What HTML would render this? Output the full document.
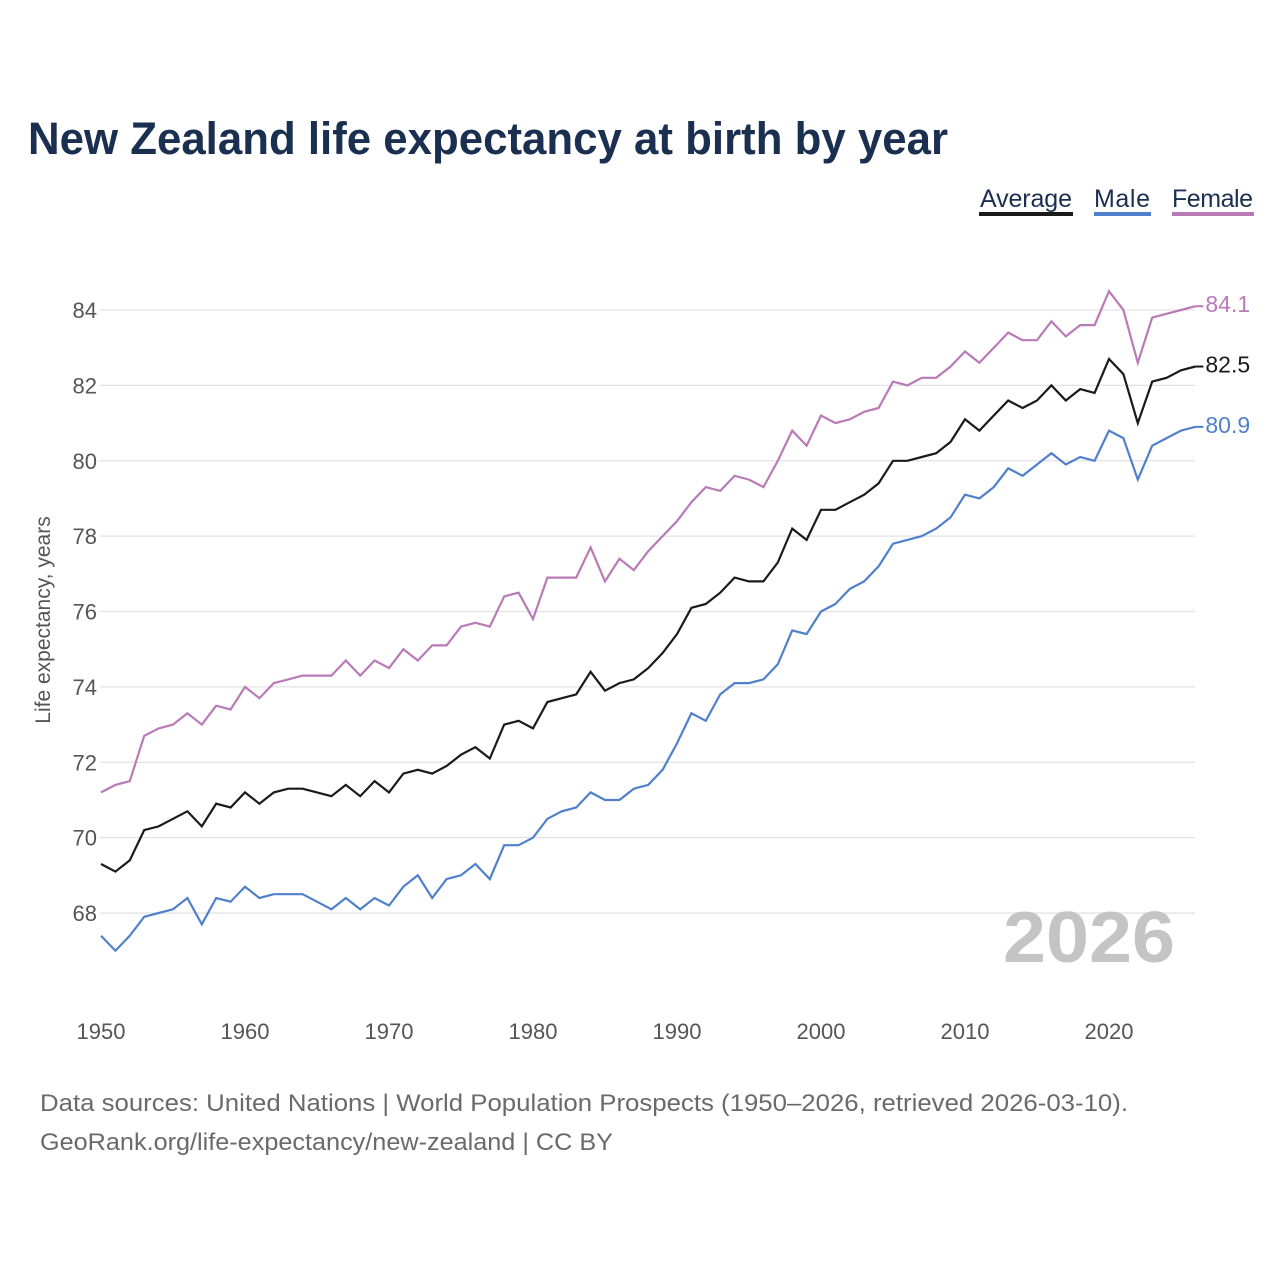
<!DOCTYPE html>
<html><head><meta charset="utf-8"><style>
body{margin:0;background:#fff;width:1280px;height:1280px;overflow:hidden;font-family:"Liberation Sans",sans-serif}
svg text{font-family:"Liberation Sans",sans-serif}
</style></head><body>
<svg id="chart" width="1280" height="1280" xmlns="http://www.w3.org/2000/svg">
<text x="28" y="154" font-size="45" font-weight="bold" fill="#1b2f50" textLength="920" lengthAdjust="spacingAndGlyphs">New Zealand life expectancy at birth by year</text>
<g>
<g><text x="980" y="207" font-size="25" fill="#1b2f50" textLength="92">Average</text><rect x="979" y="212" width="94" height="4" fill="#1a1a1a"/></g>
<g><text x="1094" y="207" font-size="25" fill="#1b2f50" textLength="56">Male</text><rect x="1094" y="212" width="57" height="4" fill="#5080cc"/></g>
<g><text x="1172" y="207" font-size="25" fill="#1b2f50" textLength="81">Female</text><rect x="1172" y="212" width="82" height="4" fill="#b97ab8"/></g>
</g>
<g id="grid"></g>
<g id="yticks"></g>
<g id="xticks"></g>
<text transform="translate(50,620) rotate(-90)" text-anchor="middle" font-size="21" fill="#555">Life expectancy, years</text>
<text x="1175" y="962" text-anchor="end" font-size="72" font-weight="bold" fill="#c4c4c4" textLength="172" lengthAdjust="spacingAndGlyphs">2026</text>
<g id="series"></g>
<text x="40" y="1111" font-size="24" fill="#6a6a6a" textLength="1088" lengthAdjust="spacingAndGlyphs">Data sources: United Nations | World Population Prospects (1950–2026, retrieved 2026-03-10).</text>
<text x="40" y="1150" font-size="24" fill="#6a6a6a" textLength="573" lengthAdjust="spacingAndGlyphs">GeoRank.org/life-expectancy/new-zealand | CC BY</text>
</svg>
<script>
const startYear = 1950;
const female = [71.2,71.4,71.5,72.7,72.9,73.0,73.3,73.0,73.5,73.4,74.0,73.7,74.1,74.2,74.3,74.3,74.3,74.7,74.3,74.7,74.5,75.0,74.7,75.1,75.1,75.6,75.7,75.6,76.4,76.5,75.8,76.9,76.9,76.9,77.7,76.8,77.4,77.1,77.6,78.0,78.4,78.9,79.3,79.2,79.6,79.5,79.3,80.0,80.8,80.4,81.2,81.0,81.1,81.3,81.4,82.1,82.0,82.2,82.2,82.5,82.9,82.6,83.0,83.4,83.2,83.2,83.7,83.3,83.6,83.6,84.5,84.0,82.6,83.8,83.9,84.0,84.1];
const average = [69.3,69.1,69.4,70.2,70.3,70.5,70.7,70.3,70.9,70.8,71.2,70.9,71.2,71.3,71.3,71.2,71.1,71.4,71.1,71.5,71.2,71.7,71.8,71.7,71.9,72.2,72.4,72.1,73.0,73.1,72.9,73.6,73.7,73.8,74.4,73.9,74.1,74.2,74.5,74.9,75.4,76.1,76.2,76.5,76.9,76.8,76.8,77.3,78.2,77.9,78.7,78.7,78.9,79.1,79.4,80.0,80.0,80.1,80.2,80.5,81.1,80.8,81.2,81.6,81.4,81.6,82.0,81.6,81.9,81.8,82.7,82.3,81.0,82.1,82.2,82.4,82.5];
const male = [67.4,67.0,67.4,67.9,68.0,68.1,68.4,67.7,68.4,68.3,68.7,68.4,68.5,68.5,68.5,68.3,68.1,68.4,68.1,68.4,68.2,68.7,69.0,68.4,68.9,69.0,69.3,68.9,69.8,69.8,70.0,70.5,70.7,70.8,71.2,71.0,71.0,71.3,71.4,71.8,72.5,73.3,73.1,73.8,74.1,74.1,74.2,74.6,75.5,75.4,76.0,76.2,76.6,76.8,77.2,77.8,77.9,78.0,78.2,78.5,79.1,79.0,79.3,79.8,79.6,79.9,80.2,79.9,80.1,80.0,80.8,80.6,79.5,80.4,80.6,80.8,80.9];
const yTicks = [68,70,72,74,76,78,80,82,84];
const xTicks = [1950,1960,1970,1980,1990,2000,2010,2020];

const NS = "http://www.w3.org/2000/svg";
const X = yr => 101 + (yr - 1950) * 14.4;
const Y = v => 310 + (84 - v) * 37.69;
function mk(tag, attrs, parent){const e=document.createElementNS(NS,tag);for(const k in attrs)e.setAttribute(k,attrs[k]);parent.appendChild(e);return e;}

const grid=document.getElementById('grid'), yt=document.getElementById('yticks'), xt=document.getElementById('xticks'), ser=document.getElementById('series');
yTicks.forEach(v=>{
  const l=mk('line',{x1:100,x2:1195,y1:Y(v),y2:Y(v),stroke:'#e3e3e3','stroke-width':1.3},grid);
  
  
  const t=mk('text',{x:97,y:Y(v)+8,'text-anchor':'end','font-size':22,fill:'#555'},yt);
  t.textContent=v;
  
  
});
xTicks.forEach(v=>{
  const t=mk('text',{x:X(v),y:1039,'text-anchor':'middle','font-size':22,fill:'#555'},xt);
  t.textContent=v;
  
  
});
function draw(arr,color,name){
  const pts=arr.map((v,i)=>X(startYear+i).toFixed(1)+','+Y(v).toFixed(1)).join(' ');
  const p=mk('polyline',{points:pts,fill:'none',stroke:color,'stroke-width':2.2,'stroke-linejoin':'miter'},ser);
  
  
  const last=arr[arr.length-1], lx=X(startYear+arr.length-1), ly=Y(last);
  mk('line',{x1:lx,x2:lx+8,y1:ly,y2:ly,stroke:color,'stroke-width':2},ser);
  const t=mk('text',{x:lx+10,y:ly+6,'font-size':23,fill:color},ser);
  t.textContent=last.toFixed(1);
  
  
}
draw(female,'#b97ab8','female');
draw(average,'#1a1a1a','average');
draw(male,'#5080cc','male');
</script>
</body></html>
